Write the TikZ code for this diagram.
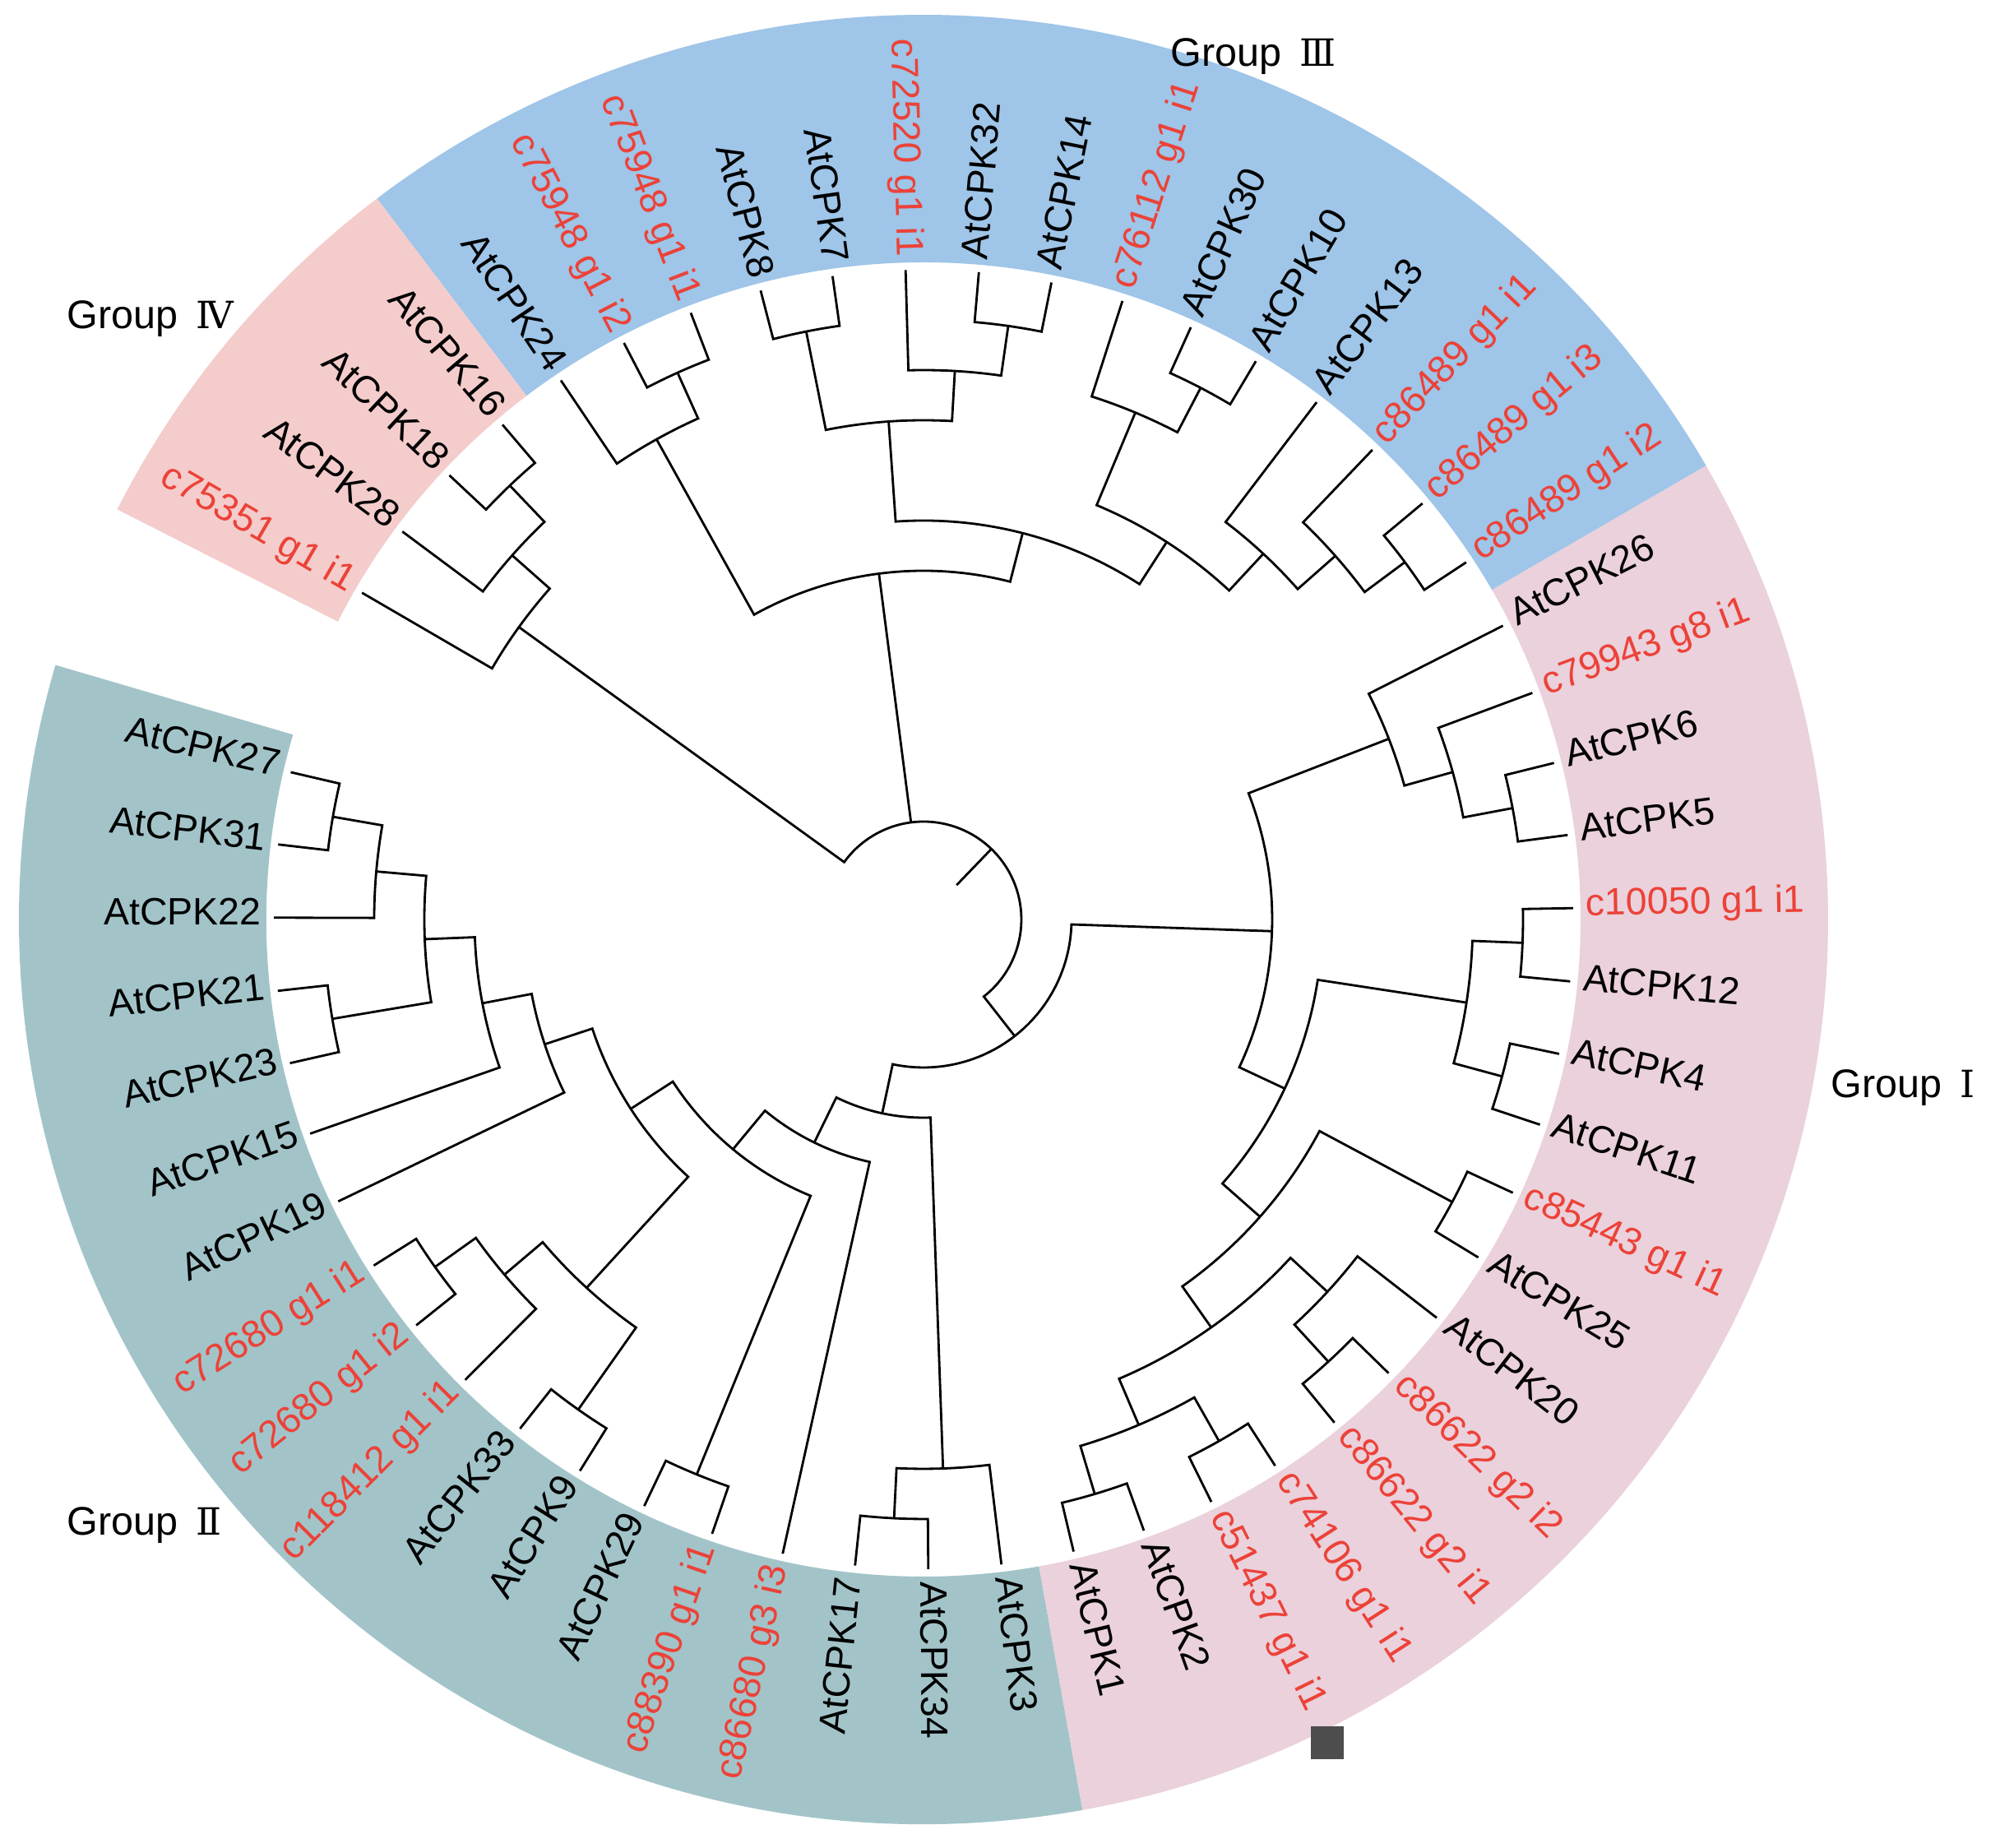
\documentclass[tikz,border=0pt]{standalone}
\usepackage{fontspec}
\setmainfont{Liberation Sans}
\newfontfamily\romfont{DejaVu Serif}
\definecolor{gI}{HTML}{EAD1DC}
\definecolor{gII}{HTML}{A2C4C9}
\definecolor{gIII}{HTML}{9FC5E8}
\definecolor{gIV}{HTML}{F4CCCC}
\definecolor{tred}{HTML}{EC4238}
\definecolor{sqgray}{HTML}{4D4D4D}
\tikzset{
  treeline/.style={line width=0.8pt, black},
  leaflab/.style={inner sep=0pt, font=\fontsize{13.2}{15}\selectfont},
  grouplab/.style={inner sep=0pt, font=\fontsize{13.8}{16}\selectfont},
}
\def\Rt{7.90}\def\Dh{0.61}\def\Rl{8.05}\def\Ri{7.99}\def\Ro{11.0}
\newcommand\leaf[3]{%
  \pgfmathsetmacro\tkA{166.9+6.47*#1}%
  \expandafter\global\expandafter\let\csname nodeang@L#1\endcsname\tkA
  \coordinate (L#1) at (\tkA:\Rt cm);
  \ifnum#1<16 \def\tkflip{1}\else\ifnum#1>43 \def\tkflip{1}\else\def\tkflip{0}\fi\fi
  \if1\tkflip
    \node[leaflab,text=#3,anchor=mid east,rotate=\tkA-180] (T#1) at (\tkA:\Rl cm) {#2};
  \else
    \node[leaflab,text=#3,anchor=mid west,rotate=\tkA] (T#1) at (\tkA:\Rl cm) {#2};
  \fi
}
\newcommand\clade[4]{%
  \pgfmathsetmacro\tkA{(\csname nodeang@#3\endcsname+\csname nodeang@#4\endcsname)/2}%
  \pgfmathsetmacro\tkR{\Rt-\Dh*#2}%
  \expandafter\global\expandafter\let\csname nodeang@#1\endcsname\tkA
  \coordinate (#1) at (\tkA:\tkR cm);
  \edef\tkB{\csname nodeang@#3\endcsname}%
  \edef\tkC{\csname nodeang@#4\endcsname}%
  \draw[treeline] (#3) -- (\tkB:\tkR cm) arc[start angle=\tkB,end angle=\tkC,radius=\tkR cm] -- (#4);
}
\newcommand\sector[3]{%
  \fill[#1] (#2:\Ri cm) arc[start angle=#2,end angle=#3,radius=\Ri cm]
    -- (#3:\Ro cm) arc[start angle=#3,end angle=#2,radius=\Ro cm] -- cycle;
}
\begin{document}
\begin{tikzpicture}
\useasboundingbox (-11.23,-11.29) rectangle (13.09,11.18);
\fill[white] (-11.23,-11.29) rectangle (13.09,11.18);
% coloured ring
\sector{gII}{163.665}{280.125}
\sector{gI}{280.125}{390.115}
\sector{gIII}{390.115}{487.165}
\sector{gIV}{487.165}{513.045}
% leaves
\leaf{0}{AtCPK27}{black}
\leaf{1}{AtCPK31}{black}
\leaf{2}{AtCPK22}{black}
\leaf{3}{AtCPK21}{black}
\leaf{4}{AtCPK23}{black}
\leaf{5}{AtCPK15}{black}
\leaf{6}{AtCPK19}{black}
\leaf{7}{c72680 g1 i1}{tred}
\leaf{8}{c72680 g1 i2}{tred}
\leaf{9}{c118412 g1 i1}{tred}
\leaf{10}{AtCPK33}{black}
\leaf{11}{AtCPK9}{black}
\leaf{12}{AtCPK29}{black}
\leaf{13}{c88390 g1 i1}{tred}
\leaf{14}{c86680 g3 i3}{tred}
\leaf{15}{AtCPK17}{black}
\leaf{16}{AtCPK34}{black}
\leaf{17}{AtCPK3}{black}
\leaf{18}{AtCPK1}{black}
\leaf{19}{AtCPK2}{black}
\leaf{20}{c51437 g1 i1}{tred}
\leaf{21}{c74106 g1 i1}{tred}
\leaf{22}{c86622 g2 i1}{tred}
\leaf{23}{c86622 g2 i2}{tred}
\leaf{24}{AtCPK20}{black}
\leaf{25}{AtCPK25}{black}
\leaf{26}{c85443 g1 i1}{tred}
\leaf{27}{AtCPK11}{black}
\leaf{28}{AtCPK4}{black}
\leaf{29}{AtCPK12}{black}
\leaf{30}{c10050 g1 i1}{tred}
\leaf{31}{AtCPK5}{black}
\leaf{32}{AtCPK6}{black}
\leaf{33}{c79943 g8 i1}{tred}
\leaf{34}{AtCPK26}{black}
\leaf{35}{c86489 g1 i2}{tred}
\leaf{36}{c86489 g1 i3}{tred}
\leaf{37}{c86489 g1 i1}{tred}
\leaf{38}{AtCPK13}{black}
\leaf{39}{AtCPK10}{black}
\leaf{40}{AtCPK30}{black}
\leaf{41}{c76112 g1 i1}{tred}
\leaf{42}{AtCPK14}{black}
\leaf{43}{AtCPK32}{black}
\leaf{44}{c72520 g1 i1}{tred}
\leaf{45}{AtCPK7}{black}
\leaf{46}{AtCPK8}{black}
\leaf{47}{c75948 g1 i1}{tred}
\leaf{48}{c75948 g1 i2}{tred}
\leaf{49}{AtCPK24}{black}
\leaf{50}{AtCPK16}{black}
\leaf{51}{AtCPK18}{black}
\leaf{52}{AtCPK28}{black}
\leaf{53}{c75351 g1 i1}{tred}
% Group II
\clade{BQ}{1}{L0}{L1}
\clade{BP}{2}{BQ}{L2}
\clade{BO}{1}{L3}{L4}
\clade{BN}{3}{BP}{BO}
\clade{BM}{4}{BN}{L5}
\clade{BL}{5}{BM}{L6}
\clade{BK}{1}{L7}{L8}
\clade{BJ}{2}{BK}{L9}
\clade{BI}{1}{L10}{L11}
\clade{BH}{3}{BJ}{BI}
\clade{BG}{6}{BL}{BH}
\clade{BF}{1}{L12}{L13}
\clade{BE}{7}{BG}{BF}
\clade{BD}{8}{BE}{L14}
\clade{BC}{1}{L15}{L16}
\clade{BB}{2}{BC}{L17}
\clade{BA}{9}{BD}{BB}
% Group I
\clade{AJ}{1}{L18}{L19}
\clade{AI}{1}{L20}{L21}
\clade{AH}{2}{AJ}{AI}
\clade{AG}{1}{L22}{L23}
\clade{AF}{2}{AG}{L24}
\clade{AE}{3}{AH}{AF}
\clade{AD}{1}{L25}{L26}
\clade{AA}{4}{AE}{AD}
\clade{AC}{1}{L27}{L28}
\clade{AB}{1}{L29}{L30}
\clade{Z}{2}{AC}{AB}
\clade{Y}{5}{AA}{Z}
\clade{X}{1}{L31}{L32}
\clade{W}{2}{X}{L33}
\clade{V}{3}{W}{L34}
\clade{U}{6}{Y}{V}
\clade{N}{10}{BA}{U}
% Group III
\clade{T}{1}{L35}{L36}
\clade{S}{2}{T}{L37}
\clade{Q}{3}{S}{L38}
\clade{P}{1}{L39}{L40}
\clade{M}{2}{P}{L41}
\clade{I}{4}{Q}{M}
\clade{L}{1}{L42}{L43}
\clade{K}{2}{L}{L44}
\clade{J}{1}{L45}{L46}
\clade{H}{3}{K}{J}
\clade{G}{5}{I}{H}
\clade{E}{1}{L47}{L48}
\clade{D}{2}{E}{L49}
\clade{F}{6}{G}{D}
% Group IV
\clade{A}{1}{L50}{L51}
\clade{B}{2}{A}{L52}
\clade{C}{3}{B}{L53}
% root
\edef\rtN{\csname nodeang@N\endcsname}
\edef\rtF{\csname nodeang@F\endcsname}
\edef\rtC{\csname nodeang@C\endcsname}
\pgfmathsetmacro\rootang{(\rtN+\rtC)/2}
\pgfmathsetmacro\rootrad{\Rt-\Dh*11}
\pgfmathsetmacro\stubrad{\Rt-\Dh*12}
\coordinate (R) at (\rootang:\rootrad cm);
\coordinate (R0) at (\rootang:\stubrad cm);
\draw[treeline] (N) -- (\rtN:\rootrad cm) arc[start angle=\rtN,end angle=\rtC,radius=\rootrad cm] -- (C);
\draw[treeline] (\rtF:\rootrad cm) -- (F);
\draw[treeline] (R0) -- (R);
% group labels
\node[grouplab,anchor=base west] (G3) at (3.00,10.37) {Group\hspace{0.45em}{\romfont\fontsize{13}{16}\selectfont Ⅲ}};
\node[grouplab,anchor=base west] (G4) at (-10.42,7.18) {Group\hspace{0.45em}{\romfont\fontsize{13}{16}\selectfont Ⅳ}};
\node[grouplab,anchor=base west] (G1) at (11.03,-2.17) {Group\hspace{0.45em}{\romfont\fontsize{13}{16}\selectfont Ⅰ}};
\node[grouplab,anchor=base west] (G2) at (-10.42,-7.49) {Group\hspace{0.45em}{\romfont\fontsize{13}{16}\selectfont Ⅱ}};
% marker square
\node[fill=sqgray,minimum size=0.4cm,inner sep=0pt] (mark) at (4.91,-10.01) {};
\end{tikzpicture}
\end{document}
